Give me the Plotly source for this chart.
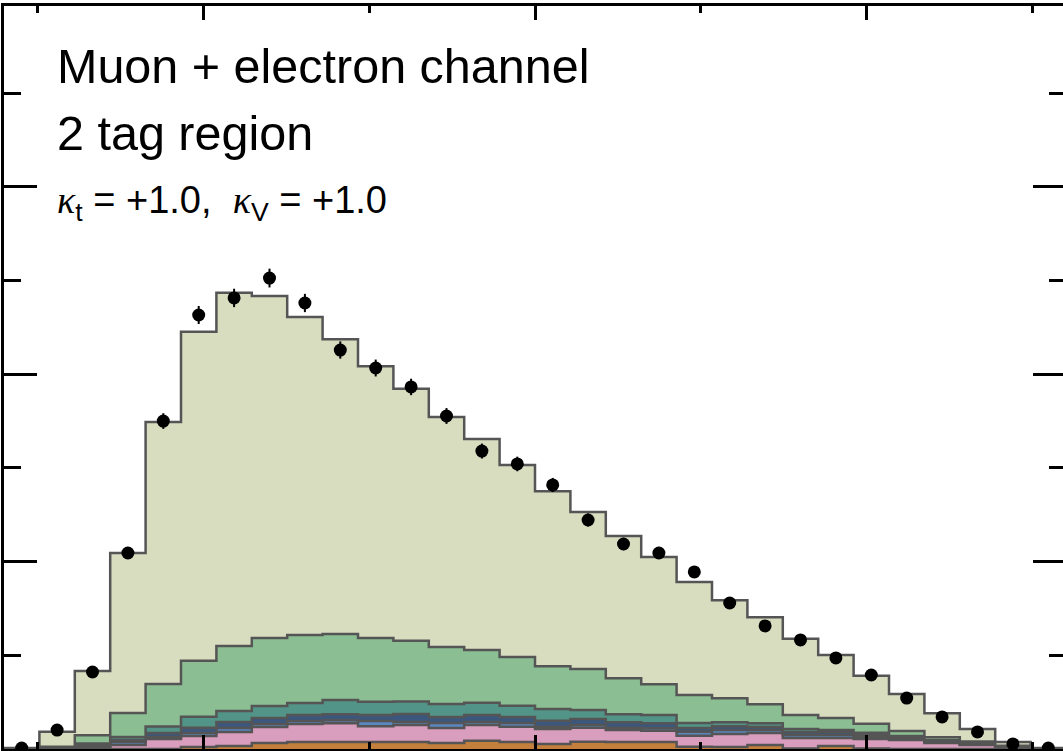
import numpy as np
import plotly.graph_objects as go

# ---- data (30 bins) ----
x_edges = np.linspace(0.4, 3.6, 31)
x_centers = 0.5 * (x_edges[:-1] + x_edges[1:])

orange = [0, 0, 0, 0, 0, 11, 16, 32, 37, 37, 37, 37, 32, 44, 37, 27, 39, 37, 37, 12, 11, 21, 3, 16, 3, 0, 0, 0, 0, 0]
pink   = [0, 3, 5, 21, 53, 59, 75, 85, 96, 101, 85, 91, 80, 84, 82, 80, 75, 64, 60, 59, 69, 64, 56, 43, 51, 48, 32, 21, 5, 0]
blue   = [0, 3, 5, 16, 11, 16, 21, 16, 16, 16, 27, 16, 27, 16, 20, 12, 14, 12, 14, 21, 21, 16, 16, 16, 11, 8, 5, 3, 3, 0]
navy   = [0, 0, 11, 11, 21, 27, 32, 32, 32, 32, 32, 43, 32, 37, 32, 32, 32, 30, 27, 20, 21, 16, 16, 16, 11, 8, 5, 3, 3, 0]
teal   = [0, 3, 8, 16, 35, 59, 59, 64, 64, 75, 71, 66, 69, 66, 60, 62, 48, 43, 43, 27, 21, 21, 16, 11, 11, 5, 5, 5, 3, 0]
green  = [2, 3, 45, 128, 227, 299, 347, 363, 363, 352, 340, 324, 304, 281, 260, 229, 219, 192, 165, 149, 128, 101, 75, 64, 48, 27, 16, 8, 3, 3]
light  = [3, 80, 342, 854, 1398, 1755, 1884, 1825, 1697, 1574, 1451, 1345, 1227, 1126, 1025, 934, 838, 758, 678, 603, 523, 464, 406, 336, 256, 197, 128, 67, 21, 3]

data = [5, 101, 411, 1046, 1750, 2316, 2407, 2513, 2380, 2129, 2033, 1932, 1777, 1590, 1521,
        1409, 1222, 1094, 1046, 945, 779, 657, 582, 486, 395, 272, 171, 91, 27, 5]

layers = [
    ("orange", orange, "#c47f3c"),
    ("pink", pink, "#d99dbd"),
    ("blue", blue, "#5a87bf"),
    ("navy", navy, "#3b577e"),
    ("teal", teal, "#529487"),
    ("green", green, "#8bbf93"),
    ("light", light, "#d8ddc0"),
]

fig = go.Figure()
cum = np.zeros(30)
for i, (name, vals, col) in enumerate(layers):
    cum = cum + np.array(vals, dtype=float)
    yy = list(cum) + [cum[-1]]
    fig.add_trace(go.Scatter(
        x=x_edges, y=yy, mode="lines", line_shape="hv",
        line=dict(color="#555555", width=2.5),
        fill="tozeroy" if i == 0 else "tonexty",
        fillcolor=col, name=name, showlegend=False, hoverinfo="skip",
    ))

fig.add_trace(go.Scatter(
    x=x_centers, y=data, mode="markers",
    marker=dict(color="black", size=13),
    error_y=dict(type="data", array=np.sqrt(np.array(data, dtype=float)),
                 color="black", thickness=2, width=0),
    showlegend=False,
))

ymax = (749 - 6) / 93.7 * 500

fig.update_layout(
    width=1070, height=751,
    margin=dict(l=4, r=1, t=6, b=2),
    paper_bgcolor="white", plot_bgcolor="white",
    font=dict(family="Liberation Sans, Arial, sans-serif", color="black"),
    xaxis=dict(range=[0.4, 3.6], showgrid=False, zeroline=False,
               showline=True, linecolor="black", linewidth=3, mirror="ticks",
               ticks="inside", ticklen=14, tickwidth=2.5, tickcolor="black",
               dtick=1, tick0=0, showticklabels=False,
               minor=dict(dtick=0.5, tick0=0, ticks="inside", ticklen=7,
                          tickwidth=2.5, tickcolor="black", showgrid=False)),
    yaxis=dict(range=[0, ymax], showgrid=False, zeroline=False,
               showline=True, linecolor="black", linewidth=3, mirror="ticks",
               ticks="inside", ticklen=33, tickwidth=2.5, tickcolor="black",
               dtick=1000, tick0=0, showticklabels=False,
               minor=dict(dtick=500, tick0=0, ticks="inside", ticklen=17,
                          tickwidth=2.5, tickcolor="black", showgrid=False)),
)

W, H = 1070.0, 751.0
def px(xp):
    return (xp - 4) / (W - 5)
def py(yp):
    return 1 - (yp - 6) / (H - 8)

fig.add_annotation(text="Muon + electron channel", xref="paper", yref="paper",
                   x=px(55), y=py(37), xanchor="left", yanchor="top", showarrow=False,
                   font=dict(size=48.5, family="Liberation Sans, Arial, sans-serif"))
fig.add_annotation(text="2 tag region", xref="paper", yref="paper",
                   x=px(55), y=py(104), xanchor="left", yanchor="top", showarrow=False,
                   font=dict(size=48.5, family="Liberation Sans, Arial, sans-serif"))
fig.add_annotation(text="<span style=\"font-family:Liberation Serif\"><i>κ</i></span><sub>t</sub> = +1.0,\u00a0\u00a0"
                        "<span style=\"font-family:Liberation Serif\"><i>κ</i></span><sub>V</sub> = +1.0",
                   xref="paper", yref="paper",
                   x=px(55), y=py(177), xanchor="left", yanchor="top", showarrow=False,
                   font=dict(size=38, family="Liberation Sans, Arial, sans-serif"))

fig.write_html("out.html", config={"displayModeBar": False},
               post_script="document.body.style.margin='0';document.body.style.overflow='hidden';document.documentElement.style.overflow='hidden';")
